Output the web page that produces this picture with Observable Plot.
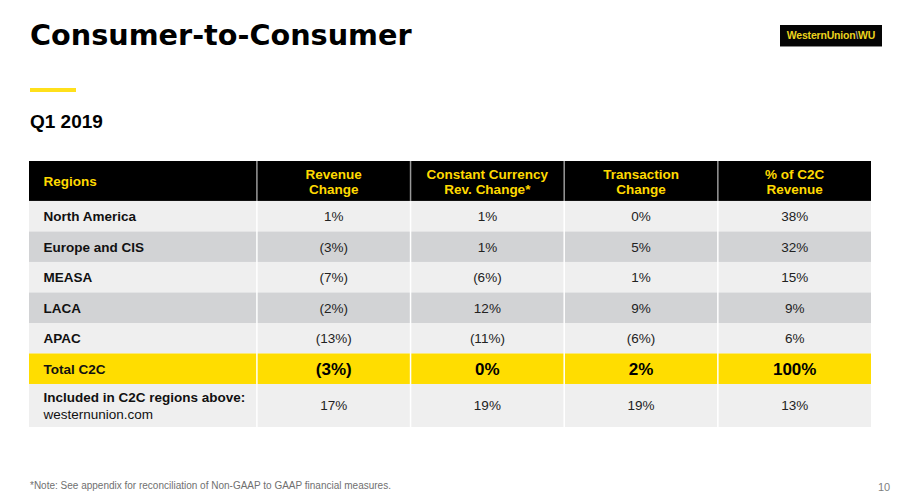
<!DOCTYPE html>
<html>
<head>
<meta charset="utf-8">
<script src="https://cdn.jsdelivr.net/npm/d3@7"></script>
<script src="https://cdn.jsdelivr.net/npm/@observablehq/plot@0.6"></script>
<style>
  html, body { margin: 0; padding: 0; background: #fff; }
  #page { position: relative; width: 900px; height: 504px; overflow: hidden; font-family: "Liberation Sans", Arial, sans-serif; }
  #page > svg { position: absolute; left: 0; top: 0; }
  .abs { position: absolute; white-space: nowrap; line-height: 1; }
  #title { left: 30px; top: 21px; font-family: "DejaVu Sans", sans-serif; font-weight: bold; font-size: 28.7px; color: #000; }
  #bar { left: 30px; top: 88px; width: 46px; height: 4px; background: #FFE01B; }
  #sub { left: 30px; top: 112px; font-weight: bold; font-size: 19px; color: #000; }
  #logo { left: 780px; top: 25px; width: 102px; height: 22px; background: #050505; color: #EBD41E; font-weight: bold; font-size: 10.5px; display: flex; align-items: center; justify-content: center; letter-spacing: -0.2px; border-bottom: 1px solid #888; box-sizing: border-box; }
  #logo .sl { color: #9a9a9a; }
  #note { left: 30px; top: 481px; font-size: 10px; color: #707070; }
  #pagenum { left: 878px; top: 482px; font-size: 11px; color: #7f7f7f; }
</style>
</head>
<body>
<div id="page">
  <div class="abs" id="title">Consumer-to-Consumer</div>
  <div class="abs" id="bar"></div>
  <div class="abs" id="sub">Q1 2019</div>
  <div class="abs" id="logo">WesternUnion<span class="sl">\</span>WU</div>
  <div class="abs" id="note">*Note: See appendix for reconciliation of Non-GAAP to GAAP financial measures.</div>
  <div class="abs" id="pagenum">10</div>
</div>
<script>
// ---- data ----
const headers = ["Regions", "Revenue\nChange", "Constant Currency\nRev. Change*", "Transaction\nChange", "% of C2C\nRevenue"];
const regions = ["North America", "Europe and CIS", "MEASA", "LACA", "APAC", "Total C2C", "Included in C2C regions above:"];
const regionSubLabels = ["", "", "", "", "", "", "westernunion.com"];
const revenueChange = [1, -3, -7, -2, -13, -3, 17];
const constantCurrencyChange = [1, 1, -6, 12, -11, 0, 19];
const transactionChange = [0, 5, 1, 9, -6, 2, 19];
const shareOfC2CRevenue = [38, 32, 15, 9, 6, 100, 13];
const rowKinds = ["light", "gray", "light", "gray", "light", "total", "light"];

// ---- layout ----
const fmt = v => v < 0 ? `(${-v}%)` : `${v}%`;
const colWeights = [1.48, 1, 1, 1, 1];
const rowWeights = [1.31, 1, 1, 1, 1, 1, 1, 1.41]; // header + 7 body rows
const cum = w => w.reduce((a, v) => (a.push(a[a.length - 1] + v), a), [0]);
const colEdges = cum(colWeights);
const rowEdges = cum(rowWeights);
const W = colEdges[colEdges.length - 1];
const H = rowEdges[rowEdges.length - 1];
const fills = {header: "#000000", light: "#EFEFEF", gray: "#D2D3D5", total: "#FFDD00"};

const series = [revenueChange, constantCurrencyChange, transactionChange, shareOfC2CRevenue];

const rowRects = [{kind: "header", y1: rowEdges[0], y2: rowEdges[1]}]
  .concat(rowKinds.map((k, i) => ({kind: k, y1: rowEdges[i + 1], y2: rowEdges[i + 2]})));

const headerCells = headers.map((h, c) => ({
  text: h, c, x1: colEdges[c], xm: (colEdges[c] + colEdges[c + 1]) / 2, ym: (rowEdges[0] + rowEdges[1]) / 2
}));

const regionCells = regions.map((r, i) => ({
  text: r, sub: regionSubLabels[i], x1: colEdges[0], ym: (rowEdges[i + 1] + rowEdges[i + 2]) / 2, kind: rowKinds[i], hasSub: regionSubLabels[i] !== ""
}));

const valueCells = [];
series.forEach((s, c) => s.forEach((v, i) => valueCells.push({
  text: fmt(v), kind: rowKinds[i], xm: (colEdges[c + 1] + colEdges[c + 2]) / 2, ym: (rowEdges[i + 1] + rowEdges[i + 2]) / 2
})));

const innerEdges = colEdges.slice(1, -1);

const font = "'Liberation Sans', Arial, Helvetica, sans-serif";

const chart = Plot.plot({
  width: 900,
  height: 504,
  marginTop: 161,
  marginBottom: 77,
  marginLeft: 29,
  marginRight: 29,
  x: {domain: [0, W], axis: null},
  y: {domain: [0, H], reverse: true, axis: null},
  color: {type: "identity"},
  style: {fontFamily: font, background: "transparent", overflow: "visible"},
  marks: [
    Plot.rect(rowRects, {x1: 0, x2: W, y1: "y1", y2: "y2", fill: d => fills[d.kind]}),
    Plot.ruleX(innerEdges, {x: d => d, y1: rowEdges[1], y2: H, stroke: "#ffffff", strokeWidth: 1.5}),
    Plot.ruleX(innerEdges, {x: d => d, y1: 0, y2: rowEdges[1], stroke: "#999999", strokeWidth: 1.5}),
    // header text
    Plot.text(headerCells.filter(d => d.c === 0), {x: "x1", y: "ym", text: "text", textAnchor: "start", dx: 14, fill: "#FFD900", fontWeight: "bold", fontSize: 13.5}),
    Plot.text(headerCells.filter(d => d.c > 0), {x: "xm", y: "ym", text: "text", lineHeight: 1.1, fill: "#FFD900", fontWeight: "bold", fontSize: 13.5}),
    // region labels
    Plot.text(regionCells.filter(d => !d.hasSub), {x: "x1", y: "ym", text: "text", textAnchor: "start", dx: 14, fill: "#111", fontWeight: "bold", fontSize: 13.5}),
    Plot.text(regionCells.filter(d => d.hasSub), {x: "x1", y: "ym", text: "text", textAnchor: "start", dx: 14, dy: -8, fill: "#111", fontWeight: "bold", fontSize: 13.5}),
    Plot.text(regionCells.filter(d => d.hasSub), {x: "x1", y: "ym", text: "sub", textAnchor: "start", dx: 14, dy: 9, fill: "#111", fontSize: 13.5}),
    // values
    Plot.text(valueCells.filter(d => d.kind !== "total"), {x: "xm", y: "ym", text: "text", fill: "#222", fontSize: 13.5}),
    Plot.text(valueCells.filter(d => d.kind === "total"), {x: "xm", y: "ym", text: "text", fill: "#000", fontWeight: "bold", fontSize: 17})
  ]
});

document.getElementById("page").prepend(chart);
</script>
</body>
</html>
